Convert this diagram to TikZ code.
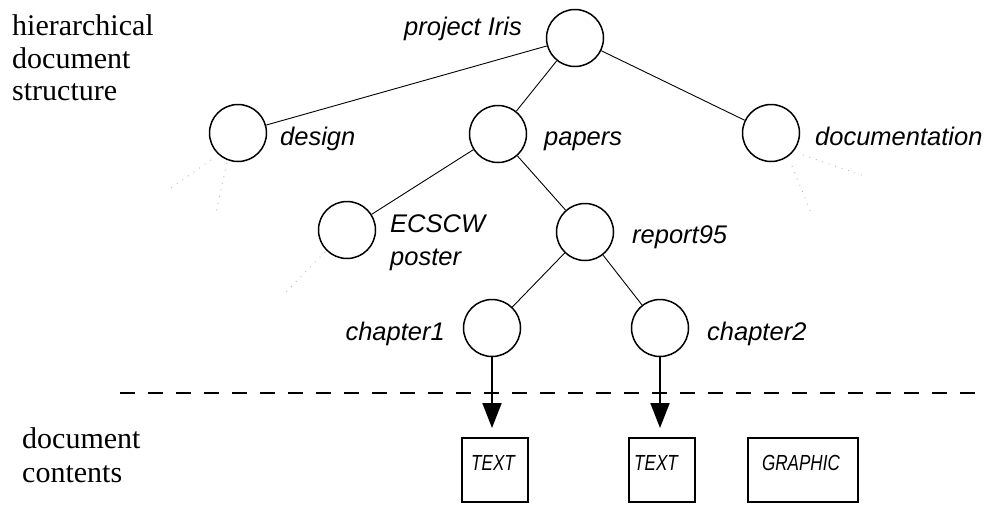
\documentclass[tikz,border=0pt]{standalone}
\usepackage{fontspec}
\setmainfont{Liberation Serif}
\newfontfamily\lblfont{Liberation Sans}
\usetikzlibrary{arrows.meta}
\tikzset{
  treenode/.style={circle, draw, line width=1.5pt, minimum size=57pt, inner sep=0pt},
  lab/.style={font=\lblfont\itshape\fontsize{25.5}{30}\selectfont, inner sep=0pt},
  side/.style={font=\fontsize{30}{32.5}\selectfont, inner sep=0pt, anchor=base west},
  edge/.style={line width=0.9pt},
  ghost/.style={draw=black!28, line width=1pt, dash pattern=on 0.8pt off 6pt},
  contentbox/.style={draw, line width=1.5pt, minimum height=64pt, inner sep=0pt},
  boxtext/.style={font=\lblfont\itshape\fontsize{20.8}{22}\selectfont, inner sep=0pt},
  link/.style={line width=2pt, -{Triangle[width=19pt,length=25pt]}},
  divider/.style={line width=2pt, dash pattern=on 15pt off 13pt}
}
\begin{document}
\begin{tikzpicture}[x=1pt,y=-1pt]
\useasboundingbox (0,0) rectangle (988,504);
% side labels
\node[side] (sTop1) at (12,35) {hierarchical};
\node[side] (sTop2) at (12,68) {document};
\node[side] (sTop3) at (12,100) {structure};
\node[side] (sBot1) at (22,448) {document};
\node[side] (sBot2) at (22,482) {contents};
% tree nodes
\node[treenode] (iris) at (575,38) {};
\node[treenode] (design) at (238,133) {};
\node[treenode] (papers) at (498,134) {};
\node[treenode] (docu) at (771,133) {};
\node[treenode] (ecscw) at (347,230) {};
\node[treenode] (report) at (585,232) {};
\node[treenode] (ch1) at (492,328) {};
\node[treenode] (ch2) at (660,328) {};
% labels
\node[lab, anchor=base east] (lIris) at (522,35) {project Iris};
\node[lab, anchor=base west] (lDesign) at (280,145) {design};
\node[lab, anchor=base west] (lPapers) at (544,145) {papers};
\node[lab, anchor=base west] (lDocu) at (815,145) {documentation};
\node[lab, anchor=base west] (lEcscw) at (390,232) {ECSCW};
\node[lab, anchor=base west] (lPoster) at (390,265) {poster};
\node[lab, anchor=base west] (lReport) at (632,243) {report95};
\node[lab, anchor=base east] (lCh1) at (445,340) {chapter1};
\node[lab, anchor=base west] (lCh2) at (707,340) {chapter2};
% edges
\draw[edge] (iris) -- (design);
\draw[edge] (iris) -- (papers);
\draw[edge] (iris) -- (docu);
\draw[edge] (papers) -- (ecscw);
\draw[edge] (papers) -- (report);
\draw[edge] (report) -- (ch1);
\draw[edge] (report) -- (ch2);
% faint dotted stubs
\coordinate (dA1) at (211,160); \coordinate (dA2) at (168,190);
\coordinate (dB1) at (227,163); \coordinate (dB2) at (216,212);
\coordinate (eA1) at (325,252); \coordinate (eA2) at (283,295);
\coordinate (oA1) at (803,155); \coordinate (oA2) at (867,177);
\coordinate (oB1) at (792,166); \coordinate (oB2) at (812,215);
\draw[ghost] (dA1) -- (dA2);
\draw[ghost] (dB1) -- (dB2);
\draw[ghost] (eA1) -- (eA2);
\draw[ghost] (oA1) -- (oA2);
\draw[ghost] (oB1) -- (oB2);
% divider
\coordinate (divL) at (120,393);
\coordinate (divR) at (975,393);
\draw[divider] (divL) -- (divR);
% content boxes
\node[contentbox, minimum width=66pt] (t1) at (495,470) {};
\node[contentbox, minimum width=66pt] (t2) at (662,470) {};
\node[contentbox, minimum width=110pt] (g1) at (803,470) {};
\node[boxtext, anchor=base] (t1txt) at (493,470) {\scalebox{0.82}[1.05]{TEXT}};
\node[boxtext, anchor=base] (t2txt) at (656,470) {\scalebox{0.82}[1.05]{TEXT}};
\node[boxtext, anchor=base] (g1txt) at (801,470) {\scalebox{0.82}[1.05]{GRAPHIC}};
% arrows
\coordinate (tip1) at (492,428);
\coordinate (tip2) at (660,428);
\draw[link] (ch1.south) -- (tip1);
\draw[link] (ch2.south) -- (tip2);
\end{tikzpicture}
\end{document}
